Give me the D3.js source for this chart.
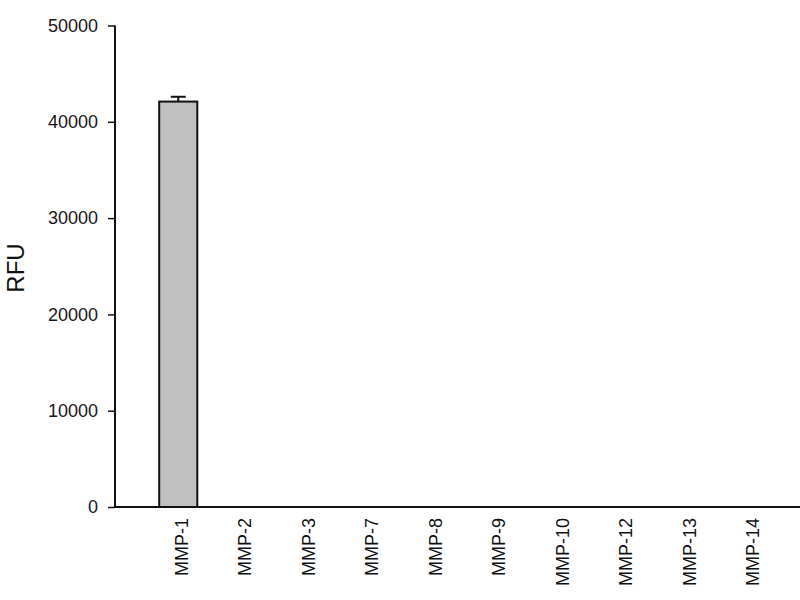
<!DOCTYPE html>
<html>
<head>
<meta charset="utf-8">
<script src="https://cdn.jsdelivr.net/npm/d3@7"></script>
<style>
  body { margin: 0; background: #fff; }
  svg { display: block; }
</style>
</head>
<body>
<div id="chart"></div>
<script>
// ==== data ====
const categories = ['MMP-1', 'MMP-2', 'MMP-3', 'MMP-7', 'MMP-8', 'MMP-9', 'MMP-10', 'MMP-12', 'MMP-13', 'MMP-14']
const values = [42100, 0, 0, 0, 0, 0, 0, 0, 0, 0]
const errors = [500, 0, 0, 0, 0, 0, 0, 0, 0, 0]
const yTicks = [0, 10000, 20000, 30000, 40000, 50000]

const width = 800
const height = 600
const axisX = 115
const axisY = 507

const svg = d3.select('#chart').append('svg')
  .attr('width', width)
  .attr('height', height)

const x = d3.scaleBand()
  .domain(categories)
  .range([146.5, 781.5])
  .paddingInner(0.4)
  .paddingOuter(0.2)

const y = d3.scaleLinear()
  .domain([0, 50000])
  .range([axisY, 25.5])

const rows = categories.map((c, i) => ({ c, v: values[i], e: errors[i] }))

// bars
svg.selectAll('rect.bar')
  .data(rows.filter(d => d.v > 0))
  .enter().append('rect')
  .attr('class', 'bar')
  .attr('x', d => x(d.c))
  .attr('y', d => y(d.v))
  .attr('width', x.bandwidth())
  .attr('height', d => y(0) - y(d.v))
  .attr('fill', '#c0c0c0')
  .attr('stroke', '#111')
  .attr('stroke-width', 2)

// error bars (upper only)
const capW = 15
const eb = svg.selectAll('g.err')
  .data(rows.filter(d => d.e > 0))
  .enter().append('g')
  .attr('class', 'err')
  .attr('stroke', '#111')
  .attr('stroke-width', 2)
eb.append('line')
  .attr('x1', d => x(d.c) + x.bandwidth() / 2)
  .attr('x2', d => x(d.c) + x.bandwidth() / 2)
  .attr('y1', d => y(d.v))
  .attr('y2', d => y(d.v + d.e))
eb.append('line')
  .attr('x1', d => x(d.c) + x.bandwidth() / 2 - capW / 2)
  .attr('x2', d => x(d.c) + x.bandwidth() / 2 + capW / 2)
  .attr('y1', d => y(d.v + d.e))
  .attr('y2', d => y(d.v + d.e))

// y axis
const yAxis = svg.append('g')
  .attr('transform', `translate(${axisX},0)`)
  .call(d3.axisLeft(y).tickValues(yTicks).tickSize(7).tickPadding(10).tickFormat(d3.format('d')))
yAxis.select('.domain')
  .attr('d', `M0,${y(50000)}V${axisY}`)
  .attr('stroke', '#111')
  .attr('stroke-width', 2)
yAxis.selectAll('.tick line').attr('stroke', '#111').attr('stroke-width', 1.5)
yAxis.selectAll('.tick text')
  .attr('fill', '#1a1420')
  .attr('font-family', 'Liberation Sans, Arial, sans-serif')
  .attr('font-size', 18)

// x axis line
svg.append('line')
  .attr('x1', axisX)
  .attr('x2', width)
  .attr('y1', axisY)
  .attr('y2', axisY)
  .attr('stroke', '#111')
  .attr('stroke-width', 2)

// x labels (rotated)
svg.selectAll('text.xlab')
  .data(categories)
  .enter().append('text')
  .attr('class', 'xlab')
  .attr('transform', d => `translate(${x(d) + x.bandwidth() / 2 + 3},${axisY + 11}) rotate(-90)`)
  .attr('text-anchor', 'end')
  .attr('dy', '0.35em')
  .attr('fill', '#111')
  .attr('font-family', 'Liberation Sans, Arial, sans-serif')
  .attr('font-size', 18)
  .text(d => d)

// y title
svg.append('text')
  .attr('transform', 'translate(16,268) rotate(-90)')
  .attr('text-anchor', 'middle')
  .attr('dy', '0.35em')
  .attr('fill', '#111')
  .attr('font-family', 'Liberation Sans, Arial, sans-serif')
  .attr('font-size', 24)
  .text('RFU')
</script>
</body>
</html>
